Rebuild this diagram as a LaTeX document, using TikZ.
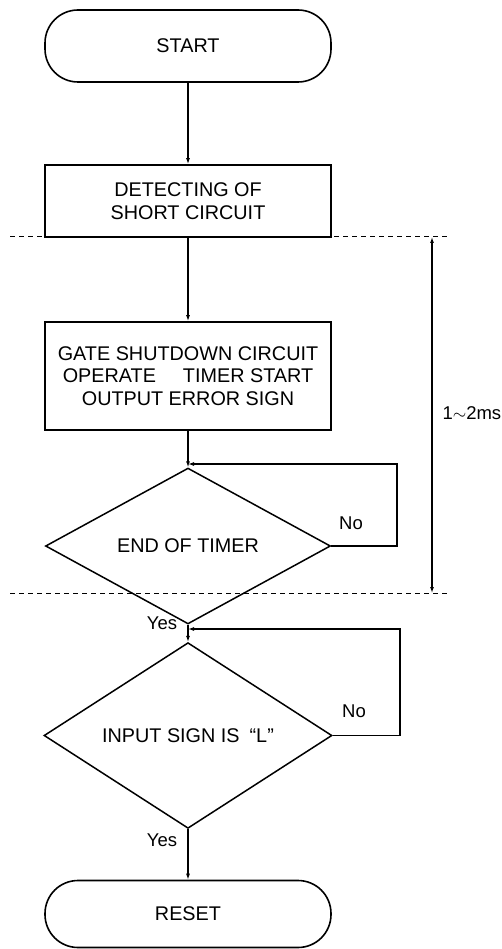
\documentclass[tikz,border=0pt]{standalone}
\usepackage{fontspec}
\setmainfont{Liberation Sans}
\usetikzlibrary{arrows.meta,shapes.geometric}
\begin{document}
\begin{tikzpicture}[x=1pt,y=-1pt,
  txt/.style={font=\fontsize{19.8}{22.5}\selectfont, align=center},
  term/.style={txt, draw, line width=1.6pt, rounded corners=33pt, minimum width=286pt, minimum height=72pt, inner sep=0pt},
  procbox/.style={txt, draw, line width=1.8pt, minimum width=286pt, inner sep=0pt},
  decision/.style={txt, draw, diamond, line width=1.5pt, inner sep=0pt},
  tip/.tip={Latex[length=6pt,width=4pt]},
  conn/.style={line width=1.1pt, -tip},
  sep/.style={line width=1pt, dash pattern=on 5pt off 4pt},
  lbl/.style={font=\fontsize{18.5}{20}\selectfont}]
\useasboundingbox (0,0) rectangle (501,949);
\node[term] (start) at (188,46) {START};
\node[procbox, minimum height=72pt] (detect) at (188,201) {DETECTING OF\\SHORT CIRCUIT};
\node[procbox, minimum height=108pt] (gate) at (188,376) {GATE SHUTDOWN CIRCUIT\\OPERATE\hspace{27pt}TIMER START\\OUTPUT ERROR SIGN};
\node[decision, minimum width=285pt, minimum height=92pt] (timer) at (188,546) {END OF TIMER};
\node[decision, minimum width=288pt, minimum height=143pt] (input) at (188,735.5) {INPUT SIGN IS\hspace{10pt}“L”};
\node[term, minimum height=67pt] (reset) at (188,914) {RESET};
\draw[conn] (start) -- (detect);
\draw[conn] (detect) -- (gate);
\draw[conn] (gate) -- (timer);
\draw[conn] (timer) -- (input);
\draw[conn] (input) -- (reset);
\coordinate (j1) at (188,464);
\coordinate (j2) at (188,629);
\draw[conn] (timer.east) -| (397,464) -- (j1);
\draw[conn] (input.east) -| (400,629) -- (j2);
\coordinate (s1l) at (10,237);
\coordinate (s1r) at (450,237);
\coordinate (s2l) at (10,593);
\coordinate (s2r) at (450,593);
\draw[sep] (s1l) -- (s1r);
\draw[sep] (s2l) -- (s2r);
\coordinate (t1) at (432,237);
\coordinate (t2) at (432,593);
\draw[line width=1.1pt, tip-tip] (t1) -- (t2);
\node[lbl, anchor=west] (dur) at (439,413) {1$\sim$2ms};
\node[lbl] (no1) at (351,523) {No};
\node[lbl] (yes1) at (162,623) {Yes};
\node[lbl] (no2) at (354,711) {No};
\node[lbl] (yes2) at (162,840) {Yes};
\end{tikzpicture}
\end{document}
